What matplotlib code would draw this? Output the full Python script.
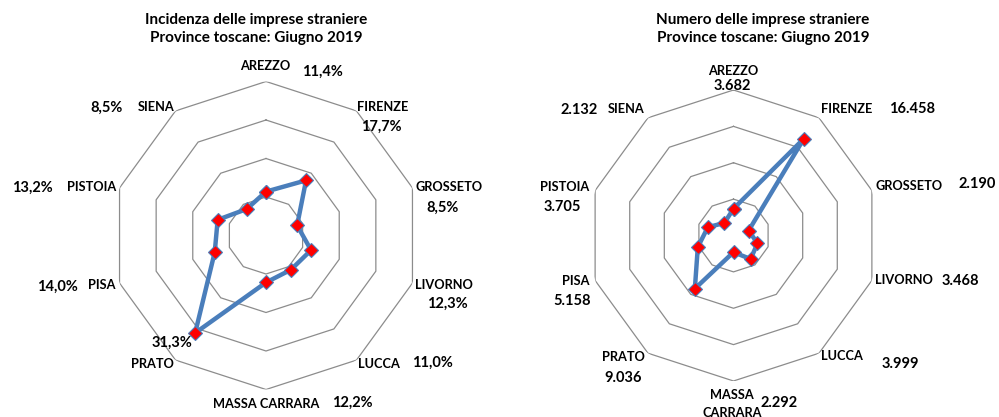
import numpy as np
import matplotlib
matplotlib.use('Agg')
import matplotlib.pyplot as plt

plt.rcParams['font.family'] = ['Lato', 'DejaVu Sans']
plt.rcParams['font.weight'] = 'bold'

# dati
province = ['AREZZO', 'FIRENZE', 'GROSSETO', 'LIVORNO', 'LUCCA',
            'MASSA CARRARA', 'PRATO', 'PISA', 'PISTOIA', 'SIENA']
incidenza = [11.4, 17.7, 8.5, 12.3, 11.0, 12.2, 31.3, 14.0, 13.2, 8.5]
numero = [3682, 16458, 2190, 3468, 3999, 2292, 9036, 5158, 3705, 2132]

titolo_sx = 'Incidenza delle imprese straniere\nProvince toscane: Giugno 2019'
titolo_dx = 'Numero delle imprese straniere\nProvince toscane: Giugno 2019'

W, H = 999, 417
BLU = '#4A7EBB'


def px(x, y):
    return x / W, 1 - y / H


def radar(rect, valori, rmax, step):
    ax = fig.add_axes(rect, projection='polar')
    ax.set_theta_zero_location('N')
    ax.set_theta_direction(-1)
    n = len(valori)
    th = np.linspace(0, 2 * np.pi, n, endpoint=False)
    thc = np.append(th, th[0])
    for r in np.arange(step, rmax + step / 2, step):
        ax.plot(thc, [r] * (n + 1), color='#8C8C8C', lw=0.9, zorder=1)
    v = np.append(valori, valori[0])
    ax.plot(thc, v, color=BLU, lw=3.2, zorder=3,
            marker='D', markersize=7, markerfacecolor='red',
            markeredgecolor=BLU, markeredgewidth=0.8)
    ax.set_ylim(0, rmax)
    ax.set_xticks([])
    ax.set_yticks([])
    ax.grid(False)
    ax.spines['polar'].set_visible(False)
    ax.patch.set_alpha(0)
    return ax


fig = plt.figure(figsize=(W / 100, H / 100), dpi=100)

# centro sinistra ~ (266, 235.5), raggio 154 px
radar([(266 - 154) / W, (417 - 389.5) / H, 308 / W, 308 / H], incidenza, 40, 10)
# centro destra ~ (733.5, 235.5), raggio 145.5 px
radar([(733.5 - 145.5) / W, (417 - 381) / H, 291 / W, 291 / H], numero, 20000, 5000)

fig.text(*px(256, 29), titolo_sx, ha='center', va='center', fontsize=11,
         linespacing=1.45)
fig.text(*px(763, 29), titolo_dx, ha='center', va='center', fontsize=11,
         linespacing=1.45)

# posizioni delle etichette (px)
pos_cat_sx = [(265, 66), (383, 107), (449, 187), (444, 285), (379, 364),
              (266, 404), (152, 364), (102, 285), (92, 187), (156, 107)]
pos_val_sx = [(322, 72), (381, 127), (443, 208), (447, 304), (432, 363),
              (352, 403), (172, 343), (57, 287), (32, 188), (107, 108)]
pos_cat_dx = [(733, 71), (847, 109), (909, 186), (904, 280), (842, 356),
              (732, 404), (623, 357), (576, 281), (565, 187), (626, 109)]
pos_val_dx = [(732, 86), (912, 109), (977, 184), (960, 281), (900, 364),
              (779, 403), (623, 378), (572, 301), (562, 207), (579, 110)]

for i, p in enumerate(province):
    fig.text(*px(*pos_cat_sx[i]), p, ha='center', va='center', fontsize=9.2)
    fig.text(*px(*pos_val_sx[i]), f'{incidenza[i]:.1f}'.replace('.', ',') + '%',
             ha='center', va='center', fontsize=10.5)
    lab = 'MASSA\nCARRARA' if p == 'MASSA CARRARA' else p
    fig.text(*px(*pos_cat_dx[i]), lab, ha='center', va='center', fontsize=9.2,
             linespacing=1.55)
    fig.text(*px(*pos_val_dx[i]), f'{numero[i]:,}'.replace(',', '.'),
             ha='center', va='center', fontsize=10.5)

fig.savefig('out.png', dpi=100)
